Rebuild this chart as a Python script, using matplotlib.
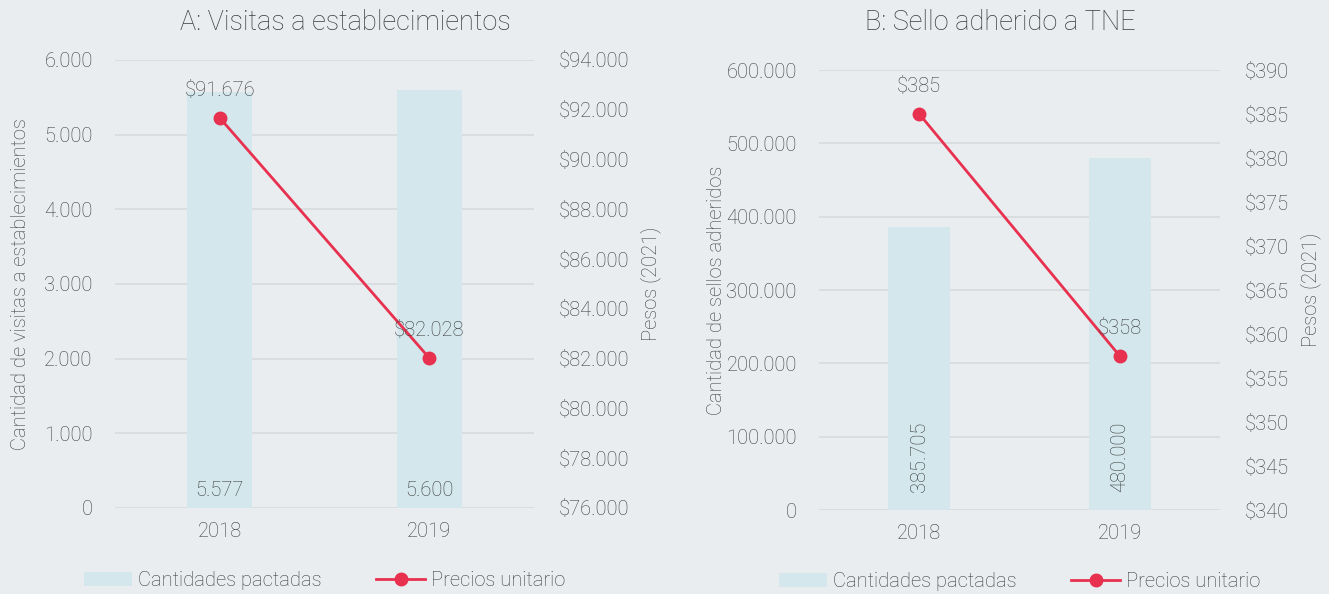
import matplotlib
matplotlib.use("Agg")
import matplotlib.pyplot as plt
from matplotlib.ticker import FuncFormatter, MultipleLocator
from matplotlib.lines import Line2D
from matplotlib.patches import Patch

plt.rcParams['font.family'] = ['Roboto', 'DejaVu Sans']
plt.rcParams['font.weight'] = 'light'
plt.rcParams['axes.titleweight'] = 'light'
plt.rcParams['axes.labelweight'] = 'light'

# Datos
years = ['2018', '2019']
visitas = [5577, 5600]
precio_visitas = [91676, 82028]
sellos = [385705, 480000]
precio_sellos = [385, 357.5]
precio_sellos_lbl = ['$385', '$358']

BG = '#E9EDF0'
BAR = '#D3E7EC'
LINE = '#E8304F'
TXT = '#3C3C3C'
GRID = '#D6DADD'
FS = 14.5


def miles(v, pos=None):
    return f"{v:,.0f}".replace(',', '.')


def pesos(v, pos=None):
    return '$' + miles(v)


def panel(fig, rect, title, title_x, cant, precios, lbl_precios, ylab, lpad, ylim1, step1, ylim2, step2, rot):
    ax = fig.add_axes(rect)
    ax.set_facecolor(BG)
    x = list(range(len(years)))
    ax.bar(x, cant, width=0.31, color=BAR, zorder=2)
    ax.set_xlim(-0.5, 1.5)
    ax.set_ylim(*ylim1)
    ax.yaxis.set_major_locator(MultipleLocator(step1))
    ax.yaxis.set_major_formatter(FuncFormatter(miles))
    ax.set_xticks(x)
    ax.set_xticklabels(years)
    ax.grid(axis='y', color=GRID, lw=1.2, zorder=0)
    for s in ax.spines.values():
        s.set_visible(False)
    ax.tick_params(length=0, labelsize=FS, colors=TXT, pad=16)
    ax.tick_params(axis='x', pad=10)
    ax.set_ylabel(ylab, fontsize=FS, color=TXT, labelpad=lpad)
    fig.text(title_x, 1 - 22 / 594, title, fontsize=19.5, color=TXT, ha='center', va='center')

    for xi, v in zip(x, cant):
        if rot:
            ax.text(xi, ylim1[1] * 0.04, miles(v), rotation=90, ha='center', va='bottom',
                    fontsize=FS, color=TXT, zorder=4)
        else:
            ax.text(xi, ylim1[1] * 0.018, miles(v), ha='center', va='bottom',
                    fontsize=FS, color=TXT, zorder=4)

    ax2 = ax.twinx()
    ax2.plot(x, precios, color=LINE, lw=2, marker='o', ms=9, zorder=5)
    ax2.set_ylim(*ylim2)
    ax2.yaxis.set_major_locator(MultipleLocator(step2))
    ax2.yaxis.set_major_formatter(FuncFormatter(pesos))
    for s in ax2.spines.values():
        s.set_visible(False)
    ax2.tick_params(length=0, labelsize=FS, colors=TXT, pad=18)
    ax2.set_ylabel('Pesos (2021)', fontsize=FS, color=TXT, labelpad=8)
    for xi, v, t in zip(x, precios, lbl_precios):
        ax2.annotate(t, (xi, v), xytext=(0, 13), textcoords='offset points',
                     ha='center', va='bottom', fontsize=FS, color=TXT, zorder=6)

    handles = [Patch(facecolor=BAR, edgecolor='none'),
               Line2D([0], [0], color=LINE, lw=2, marker='o', ms=9)]
    ax.legend(handles, ['Cantidades pactadas', 'Precios unitario'],
              loc='upper center', bbox_to_anchor=(0.5, -0.1), ncol=2, frameon=False,
              fontsize=FS, labelcolor=TXT, handlelength=2.4, handletextpad=0.3,
              columnspacing=2.7)
    return ax


fig = plt.figure(figsize=(13.29, 5.94), dpi=100)
fig.patch.set_facecolor(BG)

panel(fig, [0.0865, 0.1448, 0.3153, 0.7542], 'A: Visitas a establecimientos', 345 / 1329,
      visitas, precio_visitas, [pesos(v) for v in precio_visitas],
      'Cantidad de visitas a establecimientos', 10.5, (0, 6000), 1000, (76000, 94000), 2000, False)

panel(fig, [0.6163, 0.1414, 0.3017, 0.7407], 'B: Sello adherido a TNE', 1000 / 1329,
      sellos, precio_sellos, precio_sellos_lbl,
      'Cantidad de sellos adheridos', 0.5, (0, 600000), 100000, (340, 390), 5, True)

fig.savefig('out.png', dpi=100, facecolor=BG)
